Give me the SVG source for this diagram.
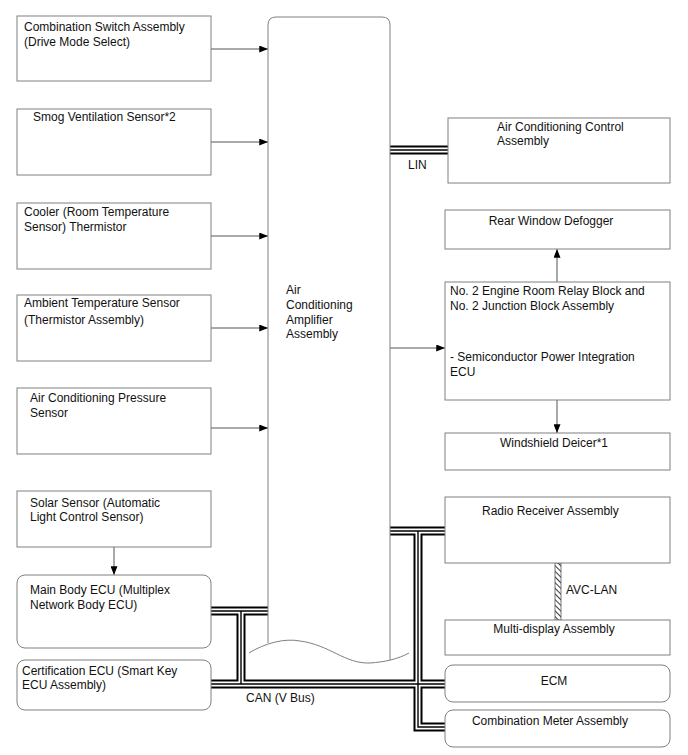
<svg xmlns="http://www.w3.org/2000/svg" width="688" height="755" viewBox="0 0 688 755">
<style>
.box{fill:#fff;stroke:#808080;stroke-width:1}
.t{font-family:"Liberation Sans",Arial,sans-serif;font-size:12px;fill:#111}
.c{text-anchor:middle}
.ln{stroke:#555;stroke-width:1;fill:none}
.b1{stroke:#000;stroke-width:9;fill:none}
.b2{stroke:#fff;stroke-width:5;fill:none}
.b3{stroke:#000;stroke-width:1.4;fill:none}
</style>
<defs>
<marker id="ah" viewBox="0 0 10 8" refX="10" refY="4" markerWidth="9" markerHeight="7" markerUnits="userSpaceOnUse" orient="auto">
<path d="M0,0 L10,4 L0,8 Z" fill="#000"/>
</marker>
<pattern id="hatch" width="4" height="4" patternUnits="userSpaceOnUse" patternTransform="rotate(-45)">
<rect width="4" height="4" fill="#fff"/>
<line x1="0" y1="0" x2="0" y2="4" stroke="#222" stroke-width="1.8"/>
</pattern>
</defs>

<g id="connectors">
<line class="ln" x1="211" y1="49" x2="268" y2="49" marker-end="url(#ah)"/>
<line class="ln" x1="211" y1="142" x2="268" y2="142" marker-end="url(#ah)"/>
<line class="ln" x1="211" y1="236" x2="268" y2="236" marker-end="url(#ah)"/>
<line class="ln" x1="211" y1="328" x2="268" y2="328" marker-end="url(#ah)"/>
<line class="ln" x1="211" y1="428" x2="268" y2="428" marker-end="url(#ah)"/>
<line class="ln" x1="114" y1="547" x2="114" y2="575" marker-end="url(#ah)"/>
<line class="ln" x1="390" y1="348" x2="445" y2="348" marker-end="url(#ah)"/>
<line class="ln" x1="557" y1="282" x2="557" y2="249" marker-end="url(#ah)"/>
<line class="ln" x1="557" y1="400" x2="557" y2="433" marker-end="url(#ah)"/>
<rect x="555" y="563" width="6" height="57" fill="url(#hatch)" stroke="#555" stroke-width="0.8"/>
<g id="buses">
<path class="b1" d="M390,150 H448 M390,531 H445 M418,531 V727 H445 M210,684 H445 M210,611 H268 M241,611 V684"/>
<path class="b2" d="M390,150 H448 M390,531 H445 M418,531 V727 H445 M210,684 H445 M210,611 H268 M241,611 V684"/>
<path class="b3" d="M390,150 H448 M390,531 H445 M418,531 V727 H445 M210,684 H445 M210,611 H268 M241,611 V684"/>
</g>
<text class="t" x="408" y="169">LIN</text>
<text class="t" x="566" y="594">AVC-LAN</text>
<text class="t" x="246" y="702">CAN (V Bus)</text>
</g>

<g id="amplifier">
<path d="M268,643 V25 Q268,17 276,17 H382 Q390,17 390,25 V660" fill="#fff" stroke="#808080" stroke-width="1"/>
<path d="M249,653 C265,643 285,638 300,641 C330,645 345,664 370,663 C385,662 398,659 409,653" fill="none" stroke="#808080" stroke-width="1"/>
<text class="t" x="286" y="294">Air</text>
<text class="t" x="286" y="309">Conditioning</text>
<text class="t" x="286" y="324">Amplifier</text>
<text class="t" x="286" y="338">Assembly</text>
</g>

<g id="combination-switch">
<rect class="box" x="17" y="16" width="194" height="65"/>
<text class="t" x="24" y="31">Combination Switch Assembly</text>
<text class="t" x="24" y="46">(Drive Mode Select)</text>
</g>
<g id="smog-sensor">
<rect class="box" x="17" y="109" width="194" height="66"/>
<text class="t" x="33" y="121">Smog Ventilation Sensor*2</text>
</g>
<g id="cooler-thermistor">
<rect class="box" x="17" y="203" width="194" height="66"/>
<text class="t" x="24" y="216">Cooler (Room Temperature</text>
<text class="t" x="24" y="231">Sensor) Thermistor</text>
</g>
<g id="ambient-sensor">
<rect class="box" x="17" y="295" width="194" height="66"/>
<text class="t" x="24" y="307">Ambient Temperature Sensor</text>
<text class="t" x="24" y="324">(Thermistor Assembly)</text>
</g>
<g id="pressure-sensor">
<rect class="box" x="17" y="388" width="194" height="66"/>
<text class="t" x="30" y="402">Air Conditioning Pressure</text>
<text class="t" x="30" y="417">Sensor</text>
</g>
<g id="solar-sensor">
<rect class="box" x="17" y="491" width="194" height="56"/>
<text class="t" x="30" y="507">Solar Sensor (Automatic</text>
<text class="t" x="30" y="521">Light Control Sensor)</text>
</g>
<g id="main-body-ecu">
<rect class="box" x="17" y="575" width="194" height="73" rx="8"/>
<text class="t" x="30" y="594">Main Body ECU (Multiplex</text>
<text class="t" x="30" y="609">Network Body ECU)</text>
</g>
<g id="certification-ecu">
<rect class="box" x="17" y="660" width="194" height="50" rx="8"/>
<text class="t" x="22" y="675">Certification ECU (Smart Key</text>
<text class="t" x="22" y="689">ECU Assembly)</text>
</g>

<g id="ac-control">
<rect class="box" x="448" y="118" width="222" height="65"/>
<text class="t" x="497" y="131">Air Conditioning Control</text>
<text class="t" x="497" y="145">Assembly</text>
</g>
<g id="rear-defogger">
<rect class="box" x="445" y="210" width="225" height="39"/>
<text class="t c" x="551" y="225">Rear Window Defogger</text>
</g>
<g id="relay-block">
<rect class="box" x="445" y="282" width="225" height="118"/>
<text class="t" x="450" y="295">No. 2 Engine Room Relay Block and</text>
<text class="t" x="450" y="310">No. 2 Junction Block Assembly</text>
<text class="t" x="450" y="361">- Semiconductor Power Integration</text>
<text class="t" x="450" y="376">ECU</text>
</g>
<g id="windshield-deicer">
<rect class="box" x="445" y="433" width="225" height="37"/>
<text class="t c" x="554" y="447">Windshield Deicer*1</text>
</g>
<g id="radio-receiver">
<rect class="box" x="445" y="497" width="225" height="66"/>
<text class="t" x="482" y="515">Radio Receiver Assembly</text>
</g>
<g id="multi-display">
<rect class="box" x="445" y="620" width="225" height="35"/>
<text class="t c" x="554" y="633">Multi-display Assembly</text>
</g>
<g id="ecm">
<rect class="box" x="445" y="665" width="225" height="37" rx="8"/>
<text class="t c" x="554" y="685">ECM</text>
</g>
<g id="combination-meter">
<rect class="box" x="445" y="710" width="225" height="37" rx="8"/>
<text class="t c" x="550" y="725">Combination Meter Assembly</text>
</g>
</svg>
